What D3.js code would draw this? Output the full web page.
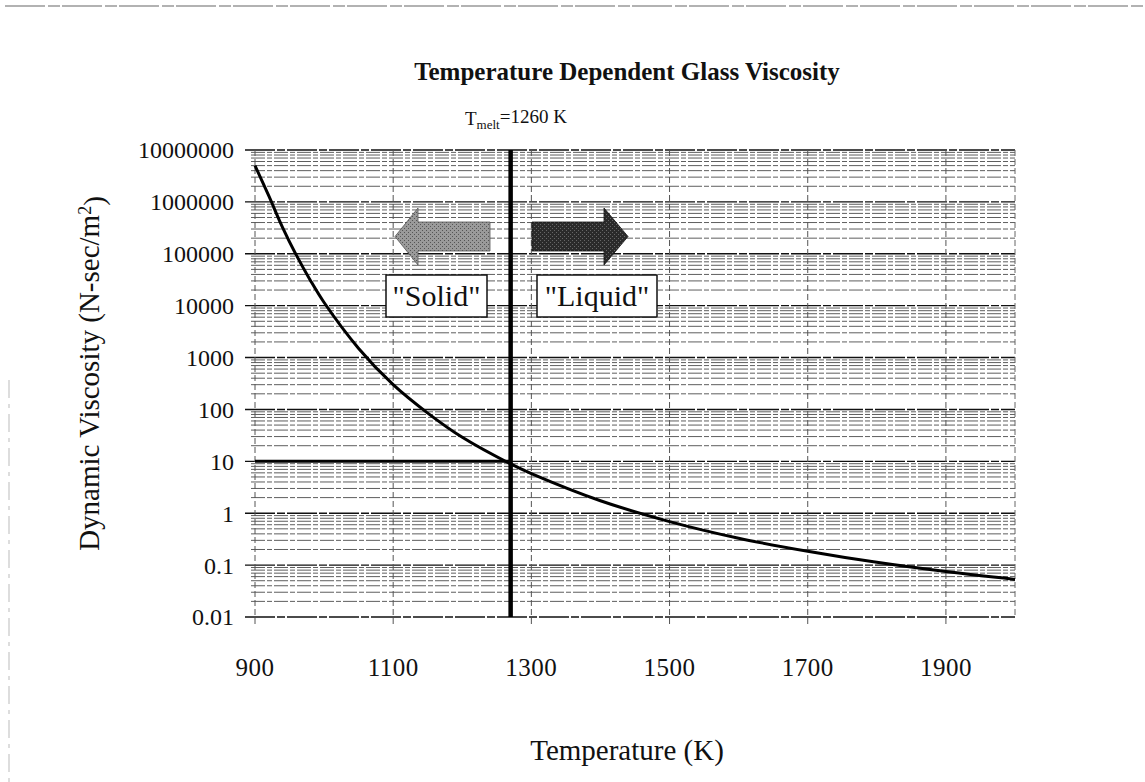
<!DOCTYPE html>
<html>
<head>
<meta charset="utf-8">
<script src="https://cdn.jsdelivr.net/npm/d3@7"></script>
<style>
  body { margin: 0; background: #fff; }
  svg { display: block; }
  text { font-family: "Liberation Serif", "Times New Roman", serif; fill: #111; }
</style>
</head>
<body>
<div id="chart"></div>
<script>
// Data
const temps = [900, 920, 940, 960, 980, 1000, 1050, 1100, 1150, 1200, 1270, 1300, 1400, 1500, 1600, 1700, 1800, 1900, 2000];
const viscosity = [5.0e6, 1.3e6, 3.2e5, 9.3e4, 3.1e4, 1.15e4, 1500, 300, 85, 29, 8.9, 5.8, 1.74, 0.69, 0.33, 0.185, 0.113, 0.075, 0.053];
const xTicks = [900, 1100, 1300, 1500, 1700, 1900];
const yTicks = [0.01, 0.1, 1, 10, 100, 1000, 10000, 100000, 1000000, 10000000];
const yTickLabels = ["0.01", "0.1", "1", "10", "100", "1000", "10000", "100000", "1000000", "10000000"];
const meltTemp = 1270;
const meltViscosity = 10;

const width = 1145, height = 782;
const plot = {left: 255, right: 1015, top: 150, bottom: 617};

const svg = d3.select("#chart").append("svg")
    .attr("width", width)
    .attr("height", height);

// halftone fills for the two arrows
const defs = svg.append("defs");
function dotPattern(id, base, dot) {
    const p = defs.append("pattern")
        .attr("id", id).attr("width", 4).attr("height", 4)
        .attr("patternUnits", "userSpaceOnUse");
    p.append("rect").attr("width", 4).attr("height", 4).attr("fill", base);
    p.append("rect").attr("x", 0).attr("y", 0).attr("width", 1).attr("height", 1).attr("fill", dot);
    p.append("rect").attr("x", 2).attr("y", 2).attr("width", 1).attr("height", 1).attr("fill", dot);
}
dotPattern("grayDots", "#9a9a9a", "#555");
dotPattern("darkDots", "#2a2a2a", "#666");

// scan frame remnants
svg.append("line").attr("x1", 5).attr("x2", width).attr("y1", 6).attr("y2", 6)
    .attr("stroke", "#999").attr("stroke-width", 1.5).attr("stroke-dasharray", "40,3,12,2");
svg.append("line").attr("x1", 9).attr("x2", 9).attr("y1", 380).attr("y2", height)
    .attr("stroke", "#bbb").attr("stroke-width", 1).attr("stroke-dasharray", "18,6,4,6");

const x = d3.scaleLinear().domain([900, 2000]).range([plot.left, plot.right]);
const y = d3.scaleLog().domain([0.01, 1e7]).range([plot.bottom, plot.top]);

// --- gridlines ---
const gGrid = svg.append("g");
const minorVals = [];
for (let e = -2; e < 7; e++) {
    for (let m = 2; m <= 9; m++) minorVals.push(m * Math.pow(10, e));
}
gGrid.selectAll("line.minor")
    .data(minorVals)
    .enter().append("line")
    .attr("class", "minor")
    .attr("x1", plot.left - 4).attr("x2", plot.right)
    .attr("y1", d => y(d)).attr("y2", d => y(d))
    .attr("stroke", "#5e5e5e")
    .attr("stroke-width", 1)
    .attr("stroke-dasharray", "14,2,5,2");

gGrid.selectAll("line.major")
    .data(yTicks)
    .enter().append("line")
    .attr("class", "major")
    .attr("x1", plot.left - 10).attr("x2", plot.right)
    .attr("y1", d => y(d)).attr("y2", d => y(d))
    .attr("stroke", "#111")
    .attr("stroke-width", 1.4)
    .attr("stroke-dasharray", "30,2,8,2");

gGrid.selectAll("line.vgrid")
    .data(xTicks)
    .enter().append("line")
    .attr("class", "vgrid")
    .attr("x1", d => x(d)).attr("x2", d => x(d))
    .attr("y1", plot.top).attr("y2", plot.bottom + 8)
    .attr("stroke", "#555")
    .attr("stroke-width", 1)
    .attr("stroke-dasharray", "6,3");

// right edge of plot
gGrid.append("line")
    .attr("x1", plot.right).attr("x2", plot.right)
    .attr("y1", plot.top).attr("y2", plot.bottom)
    .attr("stroke", "#666").attr("stroke-dasharray", "6,3");

// --- axis labels ---
svg.append("g").selectAll("text")
    .data(yTicks)
    .enter().append("text")
    .attr("x", 234)
    .attr("y", d => y(d))
    .attr("dy", "0.35em")
    .attr("text-anchor", "end")
    .style("font-size", "24px")
    .text((d, i) => yTickLabels[i]);

svg.append("g").selectAll("text")
    .data(xTicks)
    .enter().append("text")
    .attr("x", d => x(d))
    .attr("y", 676)
    .attr("text-anchor", "middle")
    .style("font-size", "25px")
    .style("letter-spacing", "0.5px")
    .text(d => d);

svg.append("text")
    .attr("x", 627).attr("y", 760)
    .attr("text-anchor", "middle")
    .style("font-size", "29px")
    .text("Temperature (K)");

const yTitle = svg.append("text")
    .attr("transform", `translate(99,${(plot.top + plot.bottom) / 2 - 10}) rotate(-90)`)
    .attr("text-anchor", "middle")
    .style("font-size", "29px");
yTitle.append("tspan").text("Dynamic Viscosity (N-sec/m");
yTitle.append("tspan").attr("dy", "-0.45em").style("font-size", "18px").text("2");
yTitle.append("tspan").attr("dy", "0.45em").text(")");

svg.append("text")
    .attr("x", 627).attr("y", 80)
    .attr("text-anchor", "middle")
    .style("font-size", "25px")
    .style("font-weight", "bold")
    .text("Temperature Dependent Glass Viscosity");

const meltLabel = svg.append("text")
    .attr("x", 465).attr("y", 125)
    .style("font-size", "19px");
meltLabel.append("tspan").text("T");
meltLabel.append("tspan").attr("dy", "0.3em").style("font-size", "13px").text("melt");
meltLabel.append("tspan").attr("dy", "-0.3em").text("=1260 K");

// --- arrows ---
const arrowY = 236.5, headH = 28.5, shaftH = 14.5;
function arrowPath(tipX, baseX, endX) {
    const p = d3.path();
    p.moveTo(tipX, arrowY);
    p.lineTo(baseX, arrowY - headH);
    p.lineTo(baseX, arrowY - shaftH);
    p.lineTo(endX, arrowY - shaftH);
    p.lineTo(endX, arrowY + shaftH);
    p.lineTo(baseX, arrowY + shaftH);
    p.lineTo(baseX, arrowY + headH);
    p.closePath();
    return p.toString();
}
svg.append("path")
    .attr("d", arrowPath(395, 418, 490))
    .attr("fill", "url(#grayDots)")
    .attr("stroke", "#555").attr("stroke-width", 0.8);
svg.append("path")
    .attr("d", arrowPath(628, 604, 532))
    .attr("fill", "url(#darkDots)")
    .attr("stroke", "#111").attr("stroke-width", 0.8);

// --- melt markers ---
svg.append("line")
    .attr("x1", x(900)).attr("x2", x(meltTemp))
    .attr("y1", y(meltViscosity)).attr("y2", y(meltViscosity))
    .attr("stroke", "#000").attr("stroke-width", 3);

svg.append("line")
    .attr("x1", x(meltTemp)).attr("x2", x(meltTemp))
    .attr("y1", plot.top).attr("y2", plot.bottom)
    .attr("stroke", "#000").attr("stroke-width", 4.5);

// --- viscosity curve ---
const line = d3.line()
    .x(d => x(d[0]))
    .y(d => y(d[1]))
    .curve(d3.curveCatmullRom.alpha(0.5));

svg.append("path")
    .datum(temps.map((t, i) => [t, viscosity[i]]))
    .attr("fill", "none")
    .attr("stroke", "#000")
    .attr("stroke-width", 3)
    .attr("d", line);

// --- text boxes ---
function labelBox(x0, x1, label) {
    svg.append("rect")
        .attr("x", x0).attr("y", 275)
        .attr("width", x1 - x0).attr("height", 42)
        .attr("fill", "#fff")
        .attr("stroke", "#111").attr("stroke-width", 1.5);
    svg.append("text")
        .attr("x", (x0 + x1) / 2).attr("y", 306)
        .attr("text-anchor", "middle")
        .style("font-size", "30px")
        .text(label);
}
labelBox(386, 487, "\"Solid\"");
labelBox(537, 657, "\"Liquid\"");
</script>
</body>
</html>
